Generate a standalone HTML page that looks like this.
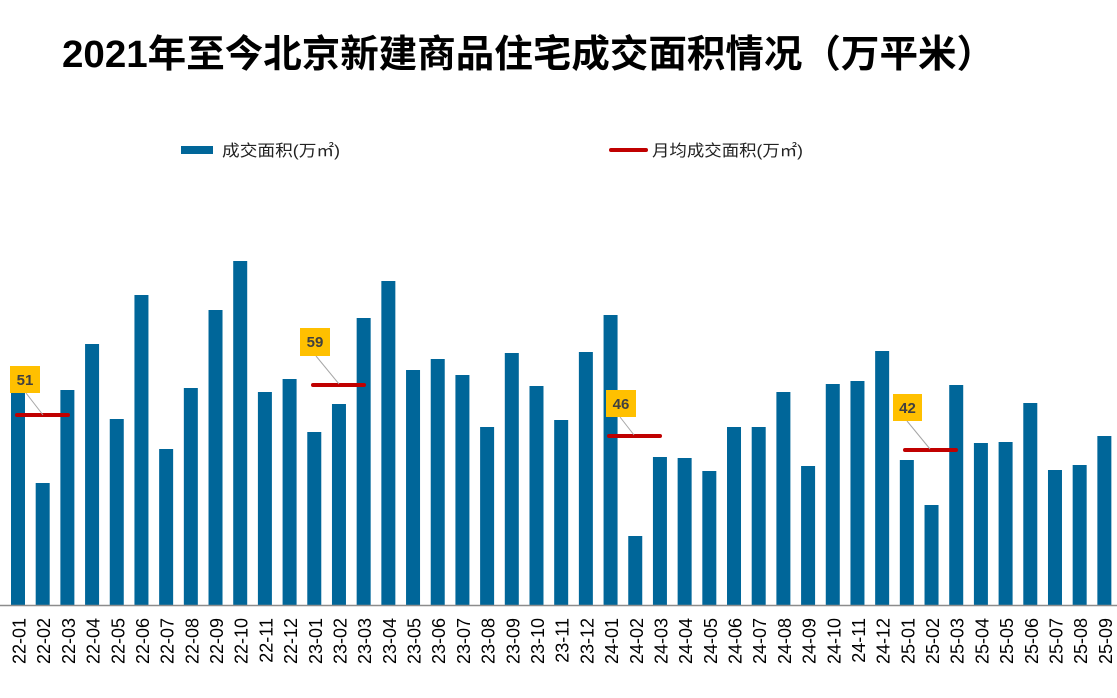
<!DOCTYPE html>
<html><head><meta charset="utf-8"><style>
html,body{margin:0;padding:0;background:#fff;}
svg{display:block;}
text{font-family:"Liberation Sans","Noto Sans CJK SC",sans-serif;}
</style></head><body>
<svg width="1117" height="698" viewBox="0 0 1117 698" xmlns="http://www.w3.org/2000/svg">
<rect width="1117" height="698" fill="#fff"/>
<text x="62" y="67" font-size="38" font-weight="bold" fill="#000" textLength="933" lengthAdjust="spacingAndGlyphs">2021年至今北京新建商品住宅成交面积情况（万平米）</text>
<rect x="181" y="146" width="32" height="8" fill="#006699"/>
<text x="222" y="156" font-size="16" fill="#222" textLength="118" lengthAdjust="spacingAndGlyphs">成交面积(万㎡)</text>
<line x1="611" y1="150" x2="646" y2="150" stroke="#C00000" stroke-width="4" stroke-linecap="round"/>
<text x="652" y="156" font-size="16" fill="#222" textLength="151" lengthAdjust="spacingAndGlyphs">月均成交面积(万㎡)</text>
<g id="bars" fill="#006699"></g>
<line x1="0" y1="605.5" x2="1117" y2="605.5" stroke="#8c8c8c" stroke-width="1.5"/>
<g id="labels" font-size="18" fill="#000"></g>
<g stroke="#C00000" stroke-width="4" stroke-linecap="round">
<line x1="17" y1="415" x2="68" y2="415"/>
<line x1="313" y1="385" x2="364" y2="385"/>
<line x1="609" y1="436" x2="660" y2="436"/>
<line x1="905" y1="450" x2="956" y2="450"/>
</g>
<g stroke="#A6A6A6" stroke-width="1">
<line x1="26" y1="393" x2="43" y2="415"/>
<line x1="316" y1="356" x2="339" y2="384"/>
<line x1="620" y1="417" x2="634" y2="435"/>
<line x1="907" y1="421" x2="930" y2="449"/>
</g>
<g fill="#FFC000">
<rect x="10" y="366" width="30" height="27"/>
<rect x="300" y="328" width="30" height="28"/>
<rect x="606" y="390" width="30" height="27"/>
<rect x="893" y="394" width="29" height="27"/>
</g>
<g font-size="15" font-weight="bold" fill="#404040" text-anchor="middle">
<text x="25" y="385">51</text>
<text x="315" y="347">59</text>
<text x="621" y="409">46</text>
<text x="907.5" y="413">42</text>
</g>
</svg>
<script>
(function(){
var tops=[388,483,390,344,419,295,449,388,310,261,392,379,
432,404,318,281,370,359,375,427,353,386,420,352,
315,536,457,458,471,427,427,392,466,384,381,351,
460,505,385,443,442,403,470,465,436];
var ns="http://www.w3.org/2000/svg";
var bars=document.getElementById("bars");
var labs=document.getElementById("labels");
function lab(i,txt,dx){
  var bx=11+i*24.69;
  var t=document.createElementNS(ns,"text");
  var x=bx+14.5+(dx||0), y=618;
  t.setAttribute("x",x);t.setAttribute("y",y);
  t.setAttribute("text-anchor","end");
  t.setAttribute("transform","rotate(-90 "+x+" "+y+")");
  t.textContent=txt;
  labs.appendChild(t);
}
lab(-1,"21-12",-2);
for(var i=0;i<tops.length;i++){
  var bx=11+i*24.69;
  var r=document.createElementNS(ns,"rect");
  r.setAttribute("x",bx.toFixed(2));
  r.setAttribute("y",tops[i]);
  r.setAttribute("width",14);
  r.setAttribute("height",605-tops[i]);
  bars.appendChild(r);
  var yr=22+Math.floor(i/12), m=(i%12)+1;
  lab(i,yr+"-"+(m<10?"0"+m:m));
}
})();
</script>
</body></html>
